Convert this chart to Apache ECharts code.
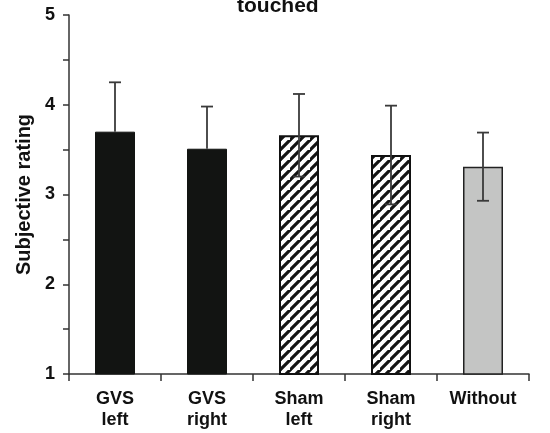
<!DOCTYPE html>
<html>
<head>
<meta charset="utf-8">
<script src="https://cdn.jsdelivr.net/npm/echarts@6/dist/echarts.min.js"></script>
<style>
html,body{margin:0;padding:0;background:#fff;}
#c{width:550px;height:433px;}
</style>
</head>
<body>
<div id="c"></div>
<script>
// Data
var categories = ['GVS\nleft', 'GVS\nright', 'Sham\nleft', 'Sham\nright', 'Without'];
var means = [3.70, 3.51, 3.66, 3.44, 3.31];
var errors = [0.55, 0.47, 0.46, 0.55, 0.38];
var lowerShown = [false, false, true, true, true];
var yTicks = [1, 2, 3, 4, 5];
var titleText = 'touched';
var yName = 'Subjective rating';

// hatch pattern
function makeHatch() {
  var s = 10;
  var cv = document.createElement('canvas');
  cv.width = s; cv.height = s;
  var ctx = cv.getContext('2d');
  ctx.fillStyle = '#ffffff';
  ctx.fillRect(0, 0, s, s);
  ctx.strokeStyle = '#141414';
  ctx.lineWidth = 3.2;
  ctx.beginPath();
  ctx.moveTo(-1, s + 1); ctx.lineTo(s + 1, -1);
  ctx.moveTo(-1 - s, s + 1); ctx.lineTo(1, -1);
  ctx.moveTo(s - 1, 2 * s + 1); ctx.lineTo(2 * s + 1, s - 1);
  ctx.stroke();
  return cv;
}
var hatch = makeHatch();

var styles = [
  { color: '#121412', borderColor: '#121412', borderWidth: 1 },
  { color: '#121412', borderColor: '#121412', borderWidth: 1 },
  { color: { image: hatch, repeat: 'repeat' }, borderColor: '#111', borderWidth: 2 },
  { color: { image: hatch, repeat: 'repeat' }, borderColor: '#111', borderWidth: 2 },
  { color: '#c4c5c4', borderColor: '#222', borderWidth: 1.5 }
];

var barData = means.map(function (v, i) {
  return { value: v, itemStyle: styles[i] };
});
var errData = means.map(function (v, i) {
  return [i, v - errors[i], v + errors[i], v, lowerShown[i] ? 1 : 0];
});

var chart = echarts.init(document.getElementById('c'), null, { renderer: 'canvas' });
var font = 'Liberation Sans, Arial, sans-serif';
chart.setOption({
  animation: false,
  backgroundColor: '#ffffff',
  grid: { left: 69, right: 21, top: 15, bottom: 59, containLabel: false },
  graphic: [{
    type: 'text',
    left: 237,
    top: -4,
    style: {
      text: titleText,
      font: 'bold 21px ' + font,
      fill: '#111'
    }
  }],
  xAxis: {
    type: 'category',
    data: categories,
    axisLine: { lineStyle: { color: '#333', width: 1.5 } },
    axisTick: { show: true, length: 7, lineStyle: { color: '#333', width: 1.5 } },
    axisLabel: {
      color: '#111', fontSize: 18, fontWeight: 'bold', fontFamily: font,
      lineHeight: 21, margin: 15, interval: 0
    }
  },
  yAxis: {
    type: 'value',
    min: 1, max: 5, interval: 0.5,
    name: yName,
    nameLocation: 'middle',
    nameGap: 34,
    nameTextStyle: { color: '#111', fontSize: 20, fontWeight: 'bold', fontFamily: font },
    splitLine: { show: false },
    axisLine: { show: true, lineStyle: { color: '#333', width: 1.5 } },
    axisTick: { show: true, length: 6, lineStyle: { color: '#333', width: 1.5 } },
    axisLabel: {
      color: '#111', fontSize: 18, fontWeight: 'bold', fontFamily: font, margin: 14,
      formatter: function (v) { return yTicks.indexOf(v) >= 0 ? String(v) : ''; }
    }
  },
  series: [{
    type: 'bar',
    data: barData,
    barWidth: 40,
    z: 2
  }, {
    type: 'custom',
    data: errData,
    z: 5,
    renderItem: function (params, api) {
      var x = api.value(0);
      var showLo = api.value(4) === 1;
      var lo = api.coord([x, showLo ? api.value(1) : api.value(3)]);
      var hi = api.coord([x, api.value(2)]);
      var w = 6;
      var st = { stroke: '#3a3a3a', lineWidth: 1.8 };
      var ch = [
        { type: 'line', shape: { x1: hi[0], y1: hi[1], x2: lo[0], y2: lo[1] }, style: st },
        { type: 'line', shape: { x1: hi[0] - w, y1: hi[1], x2: hi[0] + w, y2: hi[1] }, style: st }
      ];
      if (showLo) {
        ch.push({ type: 'line', shape: { x1: lo[0] - w, y1: lo[1], x2: lo[0] + w, y2: lo[1] }, style: st });
      }
      return { type: 'group', children: ch };
    }
  }]
});
</script>
</body>
</html>
